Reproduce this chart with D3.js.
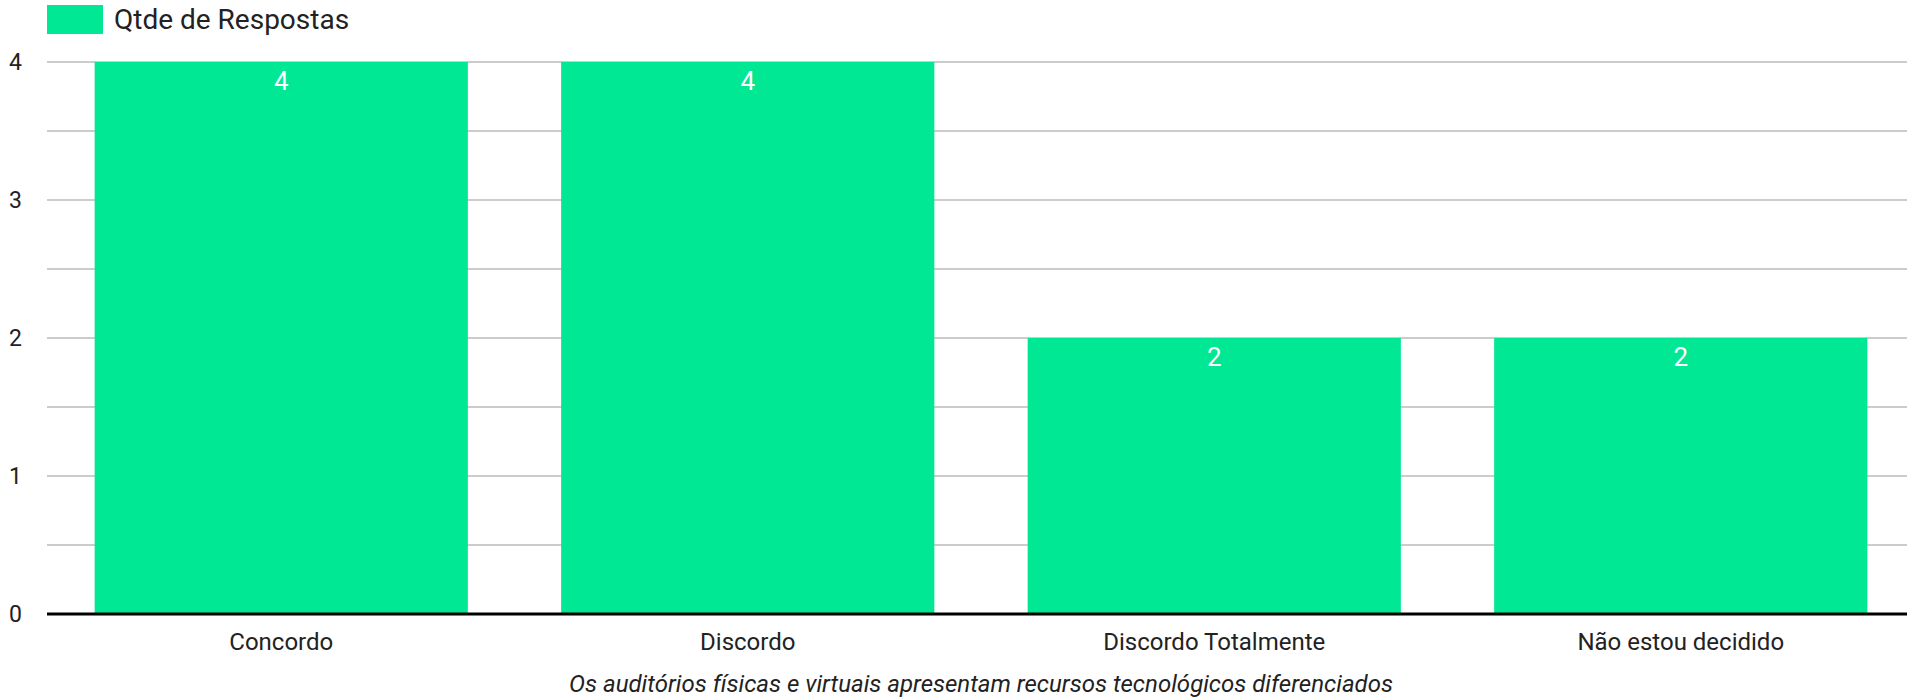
<!DOCTYPE html>
<html>
<head>
<meta charset="utf-8">
<script src="https://cdn.jsdelivr.net/npm/d3@7"></script>
<style>
  html, body { margin: 0; padding: 0; background: #fff; }
  svg { display: block; font-family: Roboto, "Noto Sans", sans-serif; }
</style>
</head>
<body>
<svg id="chart" width="1907" height="699"></svg>
<script>
const categories = ["Concordo", "Discordo", "Discordo Totalmente", "Não estou decidido"];
const values = [4, 4, 2, 2];
const yTicks = [0, 1, 2, 3, 4];
const gridTicks = [0.5, 1, 1.5, 2, 2.5, 3, 3.5, 4];
const seriesName = "Qtde de Respostas";
const xTitle = "Os auditórios físicas e virtuais apresentam recursos tecnológicos diferenciados";

const barColor = "#00E893";
const svg = d3.select("#chart");
const plotLeft = 47, plotRight = 1907, plotTop = 62, plotBottom = 614;

const x = d3.scaleBand().domain(categories).range([48, 1914]).paddingInner(0.2).paddingOuter(0.1);
const y = d3.scaleLinear().domain([0, 4]).range([plotBottom, plotTop]);

// gridlines
svg.append("g").selectAll("line").data(gridTicks).join("line")
  .attr("x1", plotLeft).attr("x2", plotRight)
  .attr("y1", d => y(d)).attr("y2", d => y(d))
  .attr("stroke", "#cccccc").attr("stroke-width", 2);

// bars
svg.append("g").selectAll("rect").data(values).join("rect")
  .attr("x", (d, i) => x(categories[i]))
  .attr("width", x.bandwidth())
  .attr("y", d => y(d))
  .attr("height", d => y(0) - y(d))
  .attr("fill", barColor);

// data labels
svg.append("g").selectAll("text").data(values).join("text")
  .attr("x", (d, i) => x(categories[i]) + x.bandwidth() / 2)
  .attr("y", d => y(d) + 28)
  .attr("text-anchor", "middle")
  .attr("fill", "#ffffff")
  .attr("font-size", 26)
  .text(d => d);

// baseline
svg.append("line")
  .attr("x1", plotLeft).attr("x2", plotRight)
  .attr("y1", y(0)).attr("y2", y(0))
  .attr("stroke", "#000").attr("stroke-width", 3);

// y tick labels
svg.append("g").selectAll("text").data(yTicks).join("text")
  .attr("x", 22)
  .attr("y", d => y(d))
  .attr("dy", "0.36em")
  .attr("text-anchor", "end")
  .attr("font-size", 23)
  .attr("fill", "#222")
  .text(d => d);

// x tick labels
svg.append("g").selectAll("text").data(categories).join("text")
  .attr("x", d => x(d) + x.bandwidth() / 2)
  .attr("y", 650)
  .attr("text-anchor", "middle")
  .attr("font-size", 24)
  .attr("fill", "#222")
  .text(d => d);

// x title
svg.append("text")
  .attr("x", 981).attr("y", 692)
  .attr("text-anchor", "middle")
  .attr("font-size", 24)
  .attr("font-style", "italic")
  .attr("fill", "#222")
  .text(xTitle);

// legend
svg.append("rect").attr("x", 47).attr("y", 5).attr("width", 56).attr("height", 29).attr("fill", barColor);
svg.append("text").attr("x", 114).attr("y", 29).attr("font-size", 28).attr("fill", "#222").text(seriesName);
</script>
</body>
</html>
